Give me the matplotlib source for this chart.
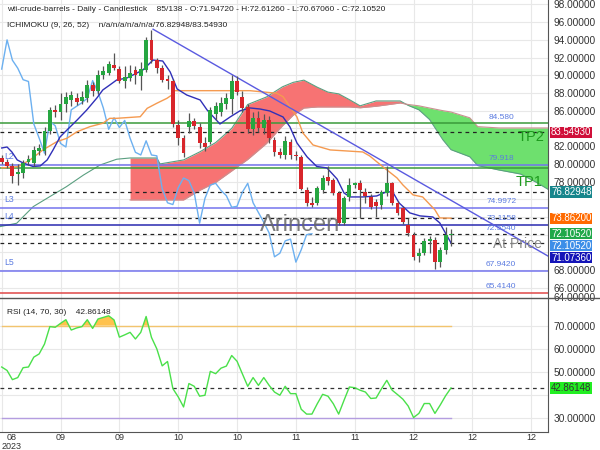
import matplotlib.pyplot as plt
import matplotlib.transforms as mtransforms
from matplotlib.lines import Line2D
import numpy as np

plt.rcParams['font.family'] = ['Liberation Sans', 'DejaVu Sans']

# daily candles, 85 visible bars
opens = [80.7, 80.25, 79.8, 78.85, 79.0, 80.25, 80.1, 81.5, 81.5, 83.7,
         86.1, 85.9, 86.8, 87.2, 87.4, 87.1, 87.4, 88.9, 88.2, 90.0,
         90.3, 91.2, 90.7, 89.4, 89.7, 90.6, 89.9, 90.6, 94.0, 91.7,
         90.8, 89.6, 89.4, 84.4, 82.9, 84.2, 84.8, 84.2, 82.3, 82.5,
         85.6, 85.8, 86.8, 87.3, 89.3, 87.6, 86.4, 83.9, 85.2, 84.1,
         84.9, 82.7, 81.3, 81.0, 82.5, 81.0, 80.8, 77.1, 75.6, 75.6,
         77.1, 78.5, 78.2, 76.7, 73.3, 76.2, 77.6, 77.8, 76.8, 76.3,
         75.7, 75.4, 76.7, 77.8, 75.6, 75.0, 73.1, 72.0, 69.6, 69.9,
         71.3, 71.4, 68.9, 70.3, 71.9472]
highs = [81.0, 80.5, 80.1, 80.0, 80.4, 81.0, 82.0, 82.2, 84.2, 86.4,
         86.6, 88.0, 88.1, 88.2, 88.0, 88.2, 89.5, 89.2, 90.6, 91.0,
         91.6, 92.5, 91.0, 91.0, 91.2, 91.0, 91.5, 94.3, 95.1, 92.0,
         91.2, 90.0, 89.6, 85.0, 83.2, 85.7, 85.2, 84.6, 83.0, 86.4,
         87.0, 87.6, 88.0, 90.0, 89.9, 88.2, 86.7, 85.8, 86.0, 85.6,
         85.4, 83.0, 81.8, 83.1, 82.8, 81.4, 81.0, 77.4, 76.3, 77.5,
         78.7, 79.7, 78.4, 76.9, 76.4, 78.4, 78.0, 78.2, 77.3, 76.6,
         76.0, 77.1, 79.7, 77.9, 75.8, 75.2, 73.9, 72.3, 70.5, 71.6,
         71.8, 71.7, 70.6, 72.9, 72.6126]
lows = [80.0, 79.5, 77.8, 77.6, 78.4, 79.9, 79.8, 81.0, 81.0, 83.4,
        85.3, 85.0, 85.9, 86.5, 86.6, 86.8, 87.0, 87.7, 87.9, 89.6,
        90.0, 90.6, 89.1, 88.6, 89.4, 89.0, 88.3, 90.4, 91.4, 90.3,
        89.2, 88.4, 84.2, 82.1, 80.8, 83.5, 83.9, 81.8, 81.5, 82.2,
        84.9, 85.4, 86.2, 85.6, 87.8, 85.9, 83.5, 83.3, 83.6, 83.4,
        82.3, 80.9, 80.7, 80.5, 80.6, 80.4, 77.0, 75.2, 75.1, 75.3,
        76.7, 77.6, 76.5, 73.1, 73.1, 75.8, 77.3, 73.9, 75.6, 74.9,
        74.0, 74.9, 76.4, 75.4, 74.2, 73.2, 71.9, 69.1, 68.9, 69.7,
        69.9, 68.1, 68.3, 69.8, 70.6706]
closes = [80.25, 79.75, 78.6, 79.1, 80.07, 80.6, 81.6, 81.8, 83.7, 86.1,
          85.9, 86.8, 87.6, 87.8, 87.0, 87.5, 88.9, 88.2, 90.0, 90.5,
          91.3, 90.8, 89.3, 89.8, 90.3, 90.0, 90.7, 94.0, 91.7, 90.8,
          89.5, 89.3, 84.5, 82.9, 81.2, 84.8, 84.3, 82.3, 81.9, 86.1,
          86.5, 86.9, 87.4, 89.4, 88.1, 86.3, 83.9, 85.2, 84.1, 84.9,
          82.9, 81.3, 81.0, 82.6, 81.0, 80.9, 77.2, 75.6, 75.4, 77.3,
          78.4, 78.1, 76.7, 73.3, 76.1, 77.6, 77.8, 77.0, 76.4, 75.1,
          75.2, 76.8, 77.8, 75.6, 74.5, 73.4, 72.2, 69.5, 69.9, 71.3,
          71.5, 68.9, 70.3, 72.0, 72.1052]

rsi = [52.0, 50.5, 46.5, 47.4, 51.7, 52.0, 56.3, 57.7, 62.0, 69.6,
       69.3, 71.0, 72.6, 68.1, 69.0, 69.6, 72.6, 68.8, 72.9, 73.6,
       74.3, 72.5, 65.0, 66.0, 67.1, 64.2, 67.1, 74.0, 64.9, 59.9,
       52.5, 54.4, 42.6, 39.0, 34.6, 44.8, 43.6, 39.3, 39.7, 50.1,
       49.1, 51.5, 52.4, 57.0, 54.5, 49.0, 43.6, 47.4, 44.0, 47.4,
       44.0, 41.1, 39.7, 43.6, 40.4, 40.4, 33.6, 31.5, 31.5, 36.0,
       40.1, 39.3, 36.0, 31.5, 37.5, 43.3, 43.0, 41.9, 41.1, 38.3,
       38.5, 42.5, 46.2, 41.9, 40.0, 38.0, 35.0, 30.0, 31.8, 36.1,
       36.1, 31.8, 35.5, 39.5, 42.86148]

# ichimoku lines (bar, price) vertices
tenkan_x = [0, 1.0, 1.9, 2.9, 4.0, 5.85, 7.2, 8.5, 9.6, 10.9, 12.2, 14.1, 15.9,
            17.8, 18.9, 20.2, 21.5, 23.4, 25.3, 26.4, 28.3, 30.1, 31.5, 32.8,
            34.6, 37.1, 38.4, 40.8, 42.7, 44.5, 46.4, 48.3, 50.1, 52.6, 53.9,
            55.2, 57.1, 58.9, 60.8, 62.7, 64.0, 65.1, 67.5, 70.1, 71.9, 73.1,
            74.3, 76.3, 78.2, 80.6, 81.9, 84]
tenkan = [81.79, 81.9, 81.34, 80.44, 80.1, 79.7, 79.76, 80.44, 81.57, 83.03,
          83.82, 84.95, 86.08, 87.44, 88.34, 88.9, 89.47, 89.69, 90.26, 90.6,
          91.72, 91.61, 90.37, 88.45, 87.77, 87.21, 86.08, 84.5, 85.29, 85.97,
          86.31, 86.19, 85.97, 85.29, 84.16, 82.36, 80.78, 79.7, 79.54, 78.29,
          76.71, 76.26, 76.26, 76.37, 76.83, 76.83, 75.58, 74.46, 74.12, 74.0,
          73.33, 71.07]
kijun_x = [0, 3.05, 5.3, 7.7, 10.3, 12.2, 14.1, 16.5, 18.9, 20.2, 21.5, 25.9,
           27.2, 29.0, 30.9, 31.8, 32.0, 46.4, 51.4, 52.6, 55.2, 56.3, 58.2,
           61.4, 67.5, 68.8, 71.3, 73.9, 75.0, 76.9, 78.7, 81.0, 81.9, 84]
kijun = [79.54, 79.68, 80.44, 81.57, 82.5, 82.89, 83.63, 84.2, 84.58, 85.14,
         85.14, 85.32, 86.27, 86.84, 87.4, 87.77, 88.26, 88.26, 87.97, 87.58,
         85.29, 83.49, 82.13, 81.57, 81.34, 80.89, 79.65, 78.41, 77.62, 76.49,
         76.26, 74.8, 73.89, 73.862]
span_a_lead_x = [-0.3, 2.8, 5.9, 9.0, 12.1, 15.3, 18.4, 21.5, 24]
span_a_lead = [72.91, 73.29, 75.17, 76.3, 77.42, 78.74, 79.87, 80.52, 80.66]
cloud_x = [24, 29, 29.6, 34, 37, 40, 43, 46, 49.5, 52.5, 54.5, 56.5, 59, 61, 63,
           65, 67, 70, 74.5, 76, 78, 80, 82.5, 84, 87.5, 89, 93, 97, 100, 102.5]
span_a = [80.66, 80.66, 79.99, 80.44, 81.34, 82.4, 84.0, 86.7, 87.55, 88.7,
          89.2, 89.45, 88.65, 88.1, 87.9, 87.25, 86.55, 87.1, 87.1, 86.6,
          86.1, 85.0, 82.7, 81.6, 80.8, 79.8, 79.3, 78.85, 77.9, 77.0]
span_b = [75.92, 75.92, 75.92, 75.92, 77.0, 77.9, 79.2, 80.5, 82.3, 84.3,
          85.5, 86.3, 86.42, 86.42, 86.42, 86.42, 86.33, 86.5, 86.87, 86.7,
          86.55, 86.3, 86.0, 85.85, 85.2, 84.2, 84.05, 84.05, 84.05, 84.05]

trend_x = [28.3, 102.1]
trend_y = [95.2, 69.6]

tick_idx = [0, 11, 22, 33, 44, 55, 66, 77, 88, 99]
tick_labels = ['08\n2023', '09', '09', '10', '10', '11', '11', '12', '12', '12']

# support / resistance levels
levels = [84.58, 79.918, 79.55, 74.9972, 73.1158, 67.942, 65.414]
level_colors = ['#3a9a3a', '#7474ee', '#3a9a3a', '#7474ee', '#2a2ab0', '#7474ee', '#e04848']
level_text = ['84.580', '79.918', '', '74.9972', '73.1158', '67.9420', '65.4140']
level_names = ['', 'L2', '', 'L3', 'L4', 'L5', '']
dashed_levels = [83.5493, 76.82948, 73.862, 72.1052, 71.0736]

tag_values = [83.5493, 76.82948, 73.862, 72.1052, 72.1052, 71.0736]
tag_colors = ['#d0103a', '#17868c', '#ff6a00', '#20a84a', '#3d8ee8', '#1414b8']

x = np.arange(len(closes))
o = np.array(opens); c = np.array(closes)
up = c >= o

fig = plt.figure(figsize=(6, 4.5), dpi=100)
ax = fig.add_axes([0.0, 0.338, 0.913, 0.662])
ax2 = fig.add_axes([0.0, 0.04, 0.913, 0.296], sharex=ax)

# cloud
ca = np.array(span_a); cb = np.array(span_b)
ax.fill_between(cloud_x, ca, cb, where=ca >= cb, interpolate=True, color='#f77373', lw=0, zorder=1)
ax.fill_between(cloud_x, ca, cb, where=cb >= ca, interpolate=True, color='#6ee06e', lw=0, zorder=1)
ax.plot(span_a_lead_x + cloud_x, span_a_lead + span_a, color='#5a9f80', lw=0.8, zorder=2)
ax.plot(cloud_x, span_b, color='#c99090', lw=0.8, zorder=2)

# levels
for lv, col, txt, nm in zip(levels, level_colors, level_text, level_names):
    ax.axhline(lv, color=col, lw=1.1, zorder=2)
    if txt:
        ax.annotate(txt, xy=(0.915, lv), xycoords=('axes fraction', 'data'), xytext=(0, 4.5),
                    textcoords='offset points', ha='center', va='center', fontsize=6.0, color='#5b7be0')
    if nm:
        ax.annotate(nm, xy=(0.008, lv), xycoords=('axes fraction', 'data'), xytext=(0, 6),
                    textcoords='offset points', ha='left', va='center', fontsize=6.3, color='#5b7be0')
ax.annotate('72.5540', xy=(0.915, 72.554), xycoords=('axes fraction', 'data'), xytext=(0, 1),
            textcoords='offset points', ha='center', va='center', fontsize=6.0, color='#5b7be0', zorder=6)
for lv in dashed_levels:
    ax.axhline(lv, color='#222222', lw=0.9, ls=(0, (3, 3)), zorder=2)

# ichimoku lines
ax.plot(x[:-26], c[26:], color='#6cb0f0', lw=1, zorder=3)
ax.plot(kijun_x, kijun, color='#f59a50', lw=1, zorder=3)
ax.plot(tenkan_x, tenkan, color='#3030b8', lw=1, zorder=3)
ax.plot(trend_x, trend_y, color='#5a5ae0', lw=1, zorder=3)

# candles
ax.vlines(x, lows, highs, color='#555555', lw=0.9, zorder=4)
ax.bar(x, np.maximum(np.abs(c - o), 0.08), bottom=np.minimum(o, c), width=0.72,
       color=np.where(up, '#26a641', '#d8262b'), zorder=5)

# big labels
bt = mtransforms.blended_transform_factory(ax.transAxes, ax.transData)
ax.text(0.969, 83.0, 'TP2', transform=bt, fontsize=10.5, color='#1e9a1e', ha='center', va='center', zorder=6)
ax.text(0.965, 77.9, 'TP1', transform=bt, fontsize=10.5, color='#1e9a1e', ha='center', va='center', zorder=6)
ax.text(0.945, 70.9, 'At Price', transform=bt, fontsize=10, color='#888888', ha='center', va='center', zorder=6)
ax.text(0.548, 0.245, 'Arincen', transform=ax.transAxes, fontsize=17, color='#666666',
        alpha=0.85, ha='center', va='center', zorder=6)

ax.set_ylim(64.86, 98.5)
ax.set_xlim(-0.32, 102.1)

# price tags stacked on the right axis
tag_pos = []
for v in tag_values:
    tag_pos.append(v if not tag_pos else min(v, tag_pos[-1] - 1.35))
for v, pos, col in zip(tag_values, tag_pos, tag_colors):
    ax.text(1.006, pos, '%.5f' % v, transform=bt, fontsize=7.0, color='white', ha='left', va='center',
            bbox=dict(facecolor=col, edgecolor='none', pad=0.5), zorder=7)

# right axis ticks, those hidden behind a tag left out
yt = np.arange(66, 99, 2)
ax.set_yticks(yt)
ax.set_yticklabels(['' if min(abs(t - p) for p in tag_pos) < 1.0 else '%.5f' % t for t in yt])
ax.yaxis.tick_right()
ax.tick_params(axis='y', length=0, pad=4, labelsize=7.3, labelcolor='#333333')
ax.tick_params(axis='x', length=0, labelbottom=False)
ax.set_xticks(tick_idx)
ax.grid(color='#e8e8e8', lw=0.8, zorder=0)
ax.set_axisbelow(True)
for s in ['top', 'left', 'bottom']:
    ax.spines[s].set_visible(False)
ax.spines['right'].set_color('#555555')
ax.text(1.0105, 0.0, '64.00000', transform=ax.transAxes, fontsize=7.3, color='#333333', ha='left', va='center')

# RSI panel
r = np.array(rsi)
ax2.fill_between(x, r, 70, where=r > 70, interpolate=True, color='#ffc24d', lw=0, zorder=2)
ax2.plot([0, x[-1]], [70, 70], color='#f2c46e', lw=1, zorder=2)
ax2.plot([0, x[-1]], [30, 30], color='#b49de0', lw=1, zorder=2)
ax2.axhline(rsi[-1], color='#333333', lw=0.9, ls=(0, (3, 3)), zorder=2)
ax2.plot(x, r, color='#4ae04a', lw=1, zorder=3)
ax2.set_ylim(23.7, 81.7)
rt = np.arange(30, 71, 10)
ax2.set_yticks(rt)
ax2.set_yticklabels(['' if abs(t - rsi[-1]) < 4 else '%.5f' % t for t in rt])
ax2.yaxis.tick_right()
ax2.tick_params(axis='y', length=0, pad=4, labelsize=7.3, labelcolor='#333333')
ax2.set_xticks(tick_idx)
ax2.set_xticklabels(tick_labels, linespacing=0.95)
ax2.tick_params(axis='x', length=0, pad=1, labelsize=6.5, labelcolor='#333333')
xl = ax2.get_xticklabels()
xl[0].set_ha('left'); xl[0].set_multialignment('center')
ax2.grid(color='#e8e8e8', lw=0.8, zorder=0)
ax2.set_axisbelow(True)
for s in ['top', 'left']:
    ax2.spines[s].set_visible(False)
ax2.spines['right'].set_color('#555555')
ax2.spines['bottom'].set_color('#555555')
ax2.text(1.006, rsi[-1], '%.5f' % rsi[-1], transform=mtransforms.blended_transform_factory(ax2.transAxes, ax2.transData),
         fontsize=7.0, color='#333333', ha='left', va='center',
         bbox=dict(facecolor='#22ee22', edgecolor='none', pad=0.5), zorder=7)

fig.add_artist(Line2D([0, 1], [0.337, 0.337], transform=fig.transFigure, color='#555555', lw=1))

# header texts
fig.text(0.012, 0.978, 'wti-crude-barrels - Daily - Candlestick    85/138 - O:71.94720 - H:72.61260 - L:70.67060 - C:72.10520',
         fontsize=6.0, color='#222222', va='center')
fig.text(0.012, 0.944, 'ICHIMOKU (9, 26, 52)    n/a/n/a/n/a/n/a/76.82948/83.54930',
         fontsize=6.0, color='#222222', va='center')
ax2.text(0.012, 0.9, 'RSI (14, 70, 30)    42.86148', transform=ax2.transAxes,
         fontsize=6.0, color='#222222', va='center', zorder=8)

fig.savefig('out.png', dpi=100)
